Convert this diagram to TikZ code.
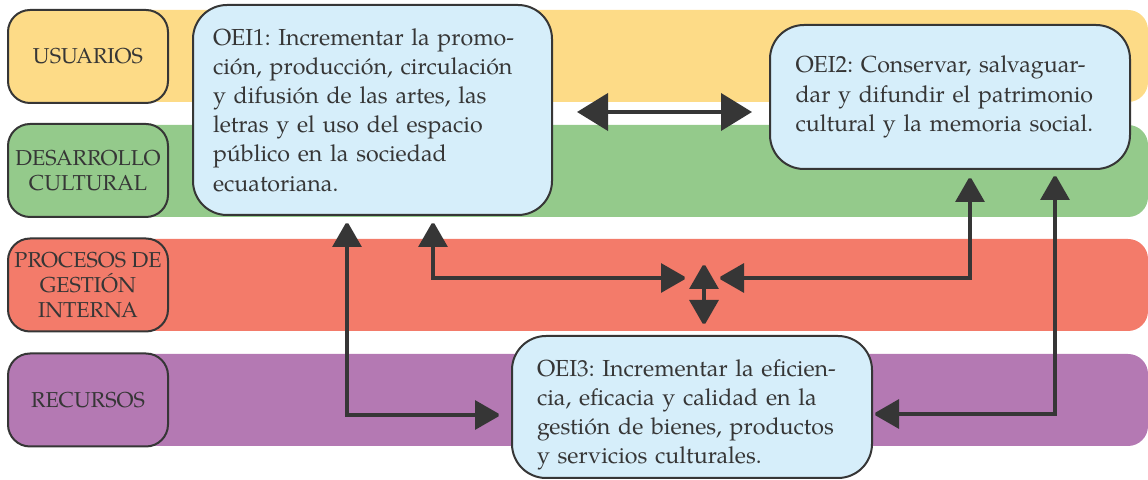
\documentclass[tikz,border=0pt]{standalone}
\usepackage{fontspec}
\setmainfont{TeX Gyre Pagella}
\usetikzlibrary{arrows.meta}
\definecolor{bandYellow}{HTML}{FDDB87}
\definecolor{bandGreen}{HTML}{94CA8B}
\definecolor{bandRed}{HTML}{F37B6A}
\definecolor{bandPurple}{HTML}{B479B3}
\definecolor{boxBlue}{HTML}{D6EEFA}
\definecolor{darkLine}{HTML}{363636}
\newcommand{\fullLine}[1]{\makebox[154.5pt][s]{#1}}
\frenchspacing
\begin{document}
\begin{tikzpicture}[x=0.5pt,y=-0.5pt,
    band/.style = {rounded corners=10pt},
    areaBox/.style = {draw=darkLine,line width=1pt,rounded corners=11pt,minimum width=80pt,minimum height=46.5pt,inner sep=0pt,align=center,text=darkLine,font=\fontsize{10.8pt}{12.4pt}\selectfont},
    goalBox/.style = {draw=darkLine,line width=1pt,fill=boxBlue,rounded corners=17pt,align=left,text=darkLine,font=\fontsize{11.6pt}{14.6pt}\selectfont},
    smallArrow/.style = {{Triangle[length=13pt,width=14.5pt]}-{Triangle[length=13pt,width=14.5pt]},draw=darkLine,line width=1.6pt,miter limit=2},
    bigArrow/.style = {{Triangle[length=15.5pt,width=18.5pt]}-{Triangle[length=15.5pt,width=18.5pt]},draw=darkLine,line width=2pt}]
    \useasboundingbox (0,0) rectangle (1148,480);

    % bands
    \fill[band,bandYellow] (60,10) rectangle (1148,102);
    \fill[band,bandGreen] (60,125) rectangle (1148,217);
    \fill[band,bandRed] (60,239) rectangle (1148,331);
    \fill[band,bandPurple] (60,354) rectangle (1148,446);

    % areas
    \node[areaBox,fill=bandYellow](usuarios) at (88,56.5) {USUARIOS};
    \node[areaBox,fill=bandGreen](desarrollo) at (88,170.5) {DESARROLLO\\CULTURAL};
    \node[areaBox,fill=bandRed](procesos) at (88,285) {PROCESOS DE\\GESTIÓN\\INTERNA};
    \node[areaBox,fill=bandPurple](recursos) at (88,400) {RECURSOS};

    % goals
    \node[goalBox,text width=159.5pt,inner xsep=10pt,minimum height=105pt](oeiOne) at (372.5,110) {OEI1: Incrementar la promo-\\ción, producción, circulación\\y difusión de las artes, las\\letras y el uso del espacio\\público en la sociedad\\ecuatoriana.};
    \node[goalBox,text width=154.5pt,inner xsep=12.75pt,minimum height=72pt](oeiTwo) at (950,97) {\fullLine{OEI2: Conservar, salvaguar-}\\\fullLine{dar y difundir el patrimonio}\\cultural y la memoria social.};
    \node[goalBox,text width=155pt,inner xsep=12.5pt,minimum height=71pt](oeiThree) at (692,407) {\rule{0pt}{16.2pt}OEI3: Incrementar la eficien-\\cia, eficacia y calidad en la\\gestión de bienes, productos\\y servicios culturales.};

    \coordinate (hub) at (704,278);

    % connectors
    \draw [bigArrow,shorten <=12pt,shorten >=8.5pt] ([yshift=-1pt]oeiOne.east) -- ([yshift=-1pt]oeiOne.east -| oeiTwo.west);
    \draw [smallArrow,shorten <=2.5pt,shorten >=5pt] ([xshift=-12.75pt]oeiOne.south) |- ([yshift=-4pt]oeiThree.west);
    \draw [smallArrow,shorten <=2.5pt] ([xshift=30.25pt]oeiOne.south) |- ([xshift=-8.5pt]hub);
    \draw [smallArrow,shorten <=3pt] ([xshift=10pt]oeiTwo.south) |- ([xshift=7pt]hub);
    \draw [smallArrow,shorten <=2pt] ([xshift=52.5pt]oeiTwo.south) |- ([yshift=-3.5pt]oeiThree.east);
    \draw [smallArrow,shorten >=4.5pt] ([yshift=7.5pt]hub) -- (hub |- oeiThree.north);
\end{tikzpicture}
\end{document}
